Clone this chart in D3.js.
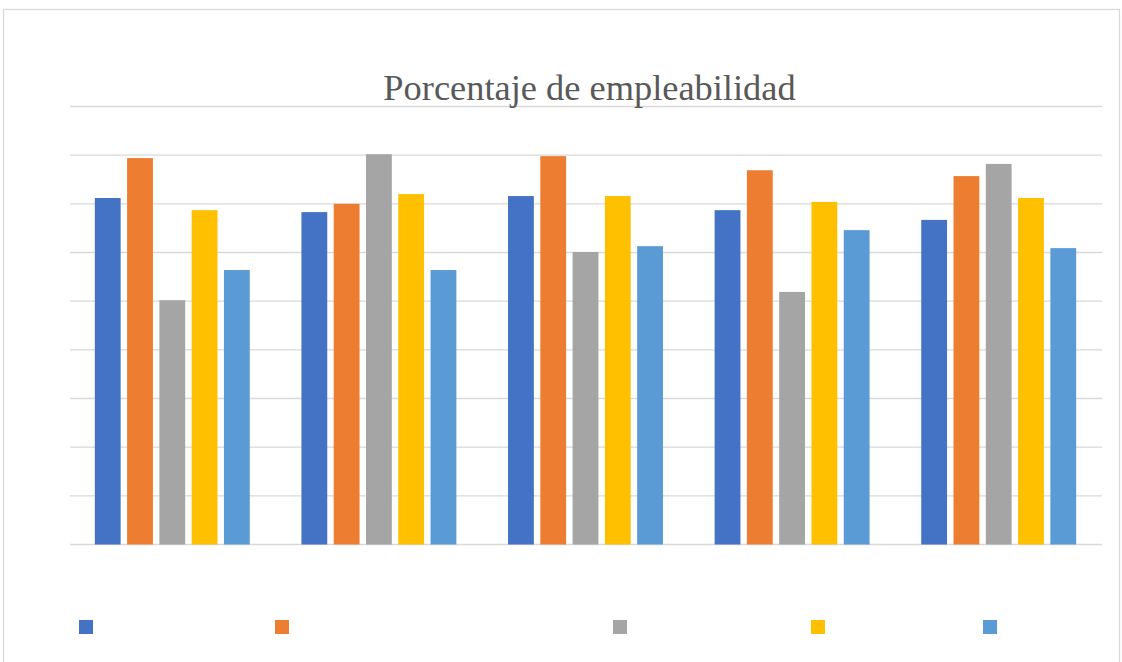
<!DOCTYPE html>
<html>
<head>
<meta charset="utf-8">
<script src="https://cdn.jsdelivr.net/npm/d3@7"></script>
<style>
  html, body { margin: 0; padding: 0; background: #ffffff; }
  svg { display: block; }
</style>
</head>
<body>
<svg id="chart" width="1122" height="662"></svg>
<script>
// Employability percentage, five groups of five series
const title = "Porcentaje de empleabilidad";
const groups = ["G1", "G2", "G3", "G4", "G5"];
const seriesKeys = ["S1", "S2", "S3", "S4", "S5"];
const seriesColors = ["#4472C4", "#ED7D31", "#A5A5A5", "#FFC000", "#5B9BD5"];
const s1 = [71.2, 68.3, 71.6, 68.7, 66.7];
const s2 = [79.4, 70.0, 79.8, 76.9, 75.7];
const s3 = [50.2, 80.2, 60.1, 51.9, 78.2];
const s4 = [68.7, 72.0, 71.6, 70.4, 71.2];
const s5 = [56.4, 56.4, 61.3, 64.6, 60.9];
const seriesValues = [s1, s2, s3, s4, s5];
const yTicks = [0, 10, 20, 30, 40, 50, 60, 70, 80, 90];

// legend swatch offsets (layout)
const legendX = [79, 275, 613, 811, 983];

const svg = d3.select("#chart");

// chart frame
svg.append("rect")
  .attr("x", 3.5).attr("y", 9.5)
  .attr("width", 1116).attr("height", 660)
  .attr("fill", "#fff")
  .attr("stroke", "#d9d9d9").attr("stroke-width", 1.3);

const plot = { left: 69, right: 1102, top: 106.5, bottom: 544.5 };

const y = d3.scaleLinear().domain([0, 90]).range([plot.bottom, plot.top]);
const x0 = d3.scaleBand().domain(groups).range([plot.left, plot.right]).padding(0);
const x1 = d3.scaleBand().domain(seriesKeys).range([0, x0.bandwidth()])
  .paddingInner(0.2).paddingOuter(0.8);

// gridlines
svg.append("g").selectAll("line")
  .data(yTicks)
  .join("line")
  .attr("x1", 70).attr("x2", plot.right)
  .attr("y1", d => y(d)).attr("y2", d => y(d))
  .attr("stroke", "#d9d9d9").attr("stroke-width", 1.4);

// bars
const rows = groups.map((g, gi) => ({
  group: g,
  values: seriesKeys.map((k, si) => ({ key: k, si, value: seriesValues[si][gi] }))
}));

svg.append("g").selectAll("g")
  .data(rows)
  .join("g")
  .attr("transform", d => `translate(${x0(d.group)},0)`)
  .selectAll("rect")
  .data(d => d.values)
  .join("rect")
  .attr("x", d => x1(d.key))
  .attr("width", x1.bandwidth())
  .attr("y", d => y(d.value))
  .attr("height", d => y(0) - y(d.value))
  .attr("fill", d => seriesColors[d.si]);

// title
svg.append("text")
  .attr("x", 589.5).attr("y", 99.5)
  .attr("text-anchor", "middle")
  .attr("font-family", "'Liberation Serif', 'Times New Roman', serif")
  .attr("font-size", 36.4)
  .attr("fill", "#595959")
  .text(title);

// legend swatches
svg.append("g").selectAll("rect")
  .data(seriesKeys)
  .join("rect")
  .attr("x", (d, i) => legendX[i])
  .attr("y", 620)
  .attr("width", 14).attr("height", 14)
  .attr("fill", (d, i) => seriesColors[i]);
</script>
</body>
</html>
